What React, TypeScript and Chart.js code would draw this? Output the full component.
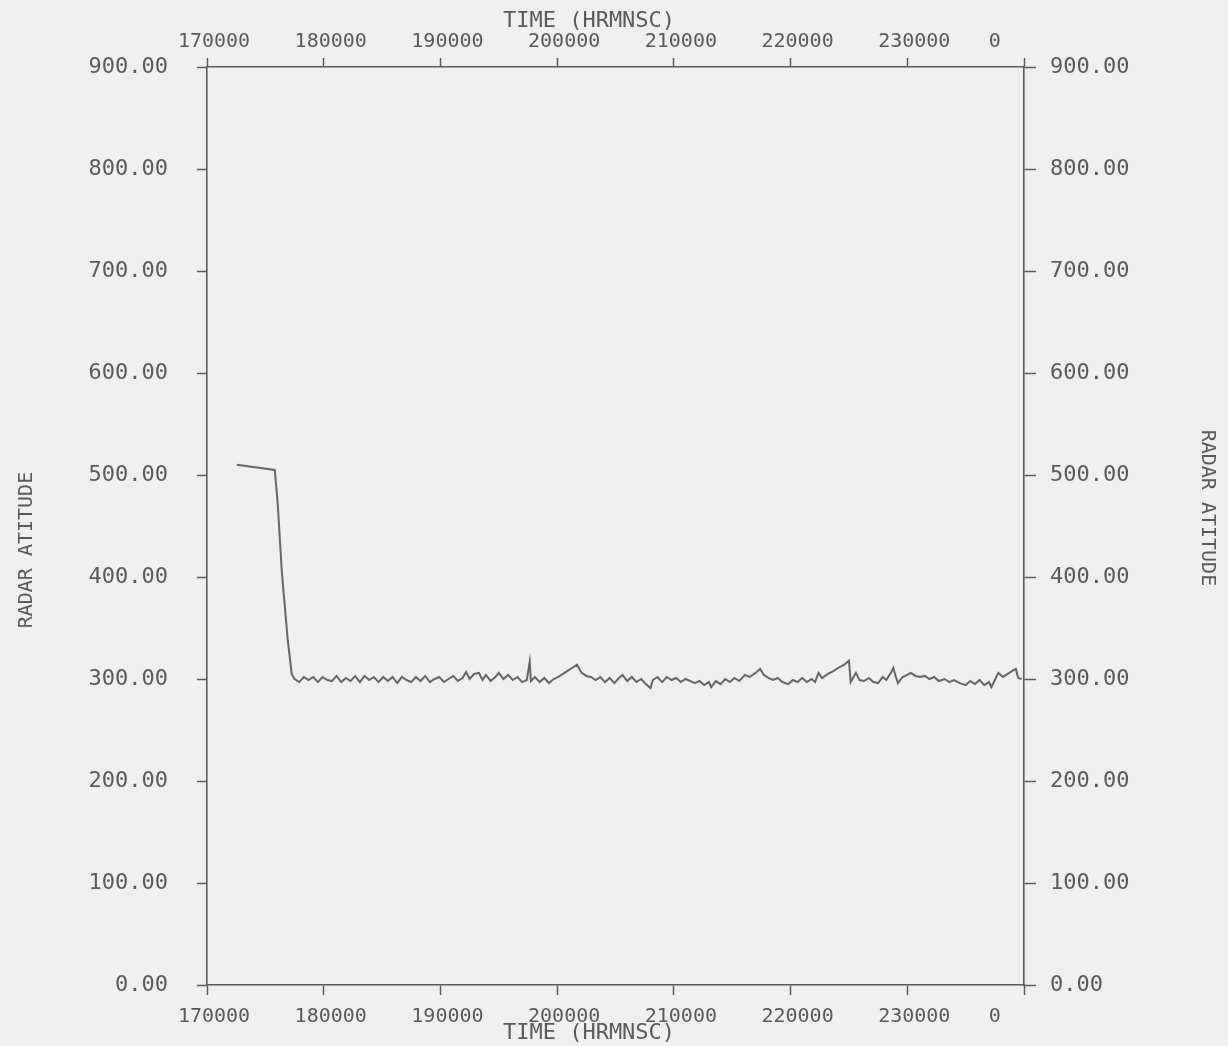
import React, { useEffect, useRef } from "react";
import { Chart, registerables } from "chart.js";

Chart.register(...registerables);

// ---- data (time in HRMNSC units as plotted, radar altitude) ----
const TIME: number[] = [
  172560, 175810, 176070, 176410, 176920, 177260, 177500,
  177900, 178300, 178700, 179100, 179500, 179900, 180300, 180700, 181100, 181500,
  181900, 182300, 182700, 183100, 183500, 183900, 184300, 184700, 185100, 185500,
  185900, 186300, 186700, 187100, 187500, 187900, 188300, 188700, 189100, 189500,
  189900, 190300, 190700, 191100, 191500, 191900, 192200, 192500, 192900, 193300,
  193600, 193900, 194300, 194700, 195000, 195400, 195800, 196200, 196600, 197000,
  197400, 197650, 197750, 198100, 198500, 198900, 199300, 199700, 200100, 200500,
  200900, 201300, 201700, 202100, 202500, 202900, 203300, 203700, 204100, 204500,
  204900, 205300, 205600, 206000, 206400, 206800, 207200, 207600, 208000, 208200,
  208600, 209000, 209400, 209800, 210200, 210600, 211000, 211400, 211800, 212200,
  212600, 213000, 213200, 213600, 214000, 214400, 214800, 215200, 215600, 216100,
  216500, 217000, 217400, 217700, 218100, 218500, 218900, 219300, 219800, 220200,
  220600, 221000, 221400, 221800, 222100, 222400, 222700, 223200, 223700, 224100,
  224600, 225000, 225150, 225600, 225900, 226300, 226700, 227100, 227500, 227900,
  228200, 228600, 228800, 229000, 229200, 229600, 230000, 230300, 230700, 231100,
  231500, 231900, 232300, 232700, 233200, 233600, 234000, 234500, 235000, 235400,
  235800, 236200, 236600, 237000, 237200, 237500, 237800, 238200, 238600, 239000,
  239300, 239500, 239800,
];

const ALT: number[] = [
  510, 505, 470, 405, 338, 305, 300,
  297, 302, 299, 302, 297, 302, 299, 298, 303, 297,
  301, 298, 303, 297, 303, 299, 302, 297, 302, 298,
  302, 296, 302, 299, 297, 302, 298, 303, 297, 300,
  302, 297, 300, 303, 298, 301, 307, 300, 305, 306,
  299, 304, 298, 302, 306, 300, 304, 299, 302, 297,
  299, 317, 298, 302, 297, 301, 296, 300, 302, 305,
  308, 311, 314, 306, 303, 302, 299, 302, 297, 301,
  296, 301, 304, 298, 302, 297, 300, 295, 291, 299,
  302, 297, 302, 299, 301, 297, 300, 298, 296, 298,
  294, 297, 292, 298, 295, 300, 297, 301, 298, 304,
  302, 306, 310, 304, 301, 299, 301, 297, 295, 299,
  297, 301, 297, 300, 297, 306, 301, 305, 308, 311,
  314, 318, 297, 306, 299, 298, 301, 297, 296, 302,
  299, 306, 311, 303, 296, 302, 304, 306, 303, 302,
  303, 300, 302, 298, 300, 297, 299, 296, 294, 298,
  295, 299, 294, 297, 292, 299, 306, 302, 305, 308,
  310, 301, 300,
];

// ---- axes ----
const X_TICK_VALUES: number[] = [170000, 180000, 190000, 200000, 210000, 220000, 230000, 240000];
// the last label sits left of its tick in the original print
const X_TICK_LABELS: string[] = ["170000", "180000", "190000", "200000", "210000", "220000", "230000", "0      "];
const Y_TICK_VALUES: number[] = [0, 100, 200, 300, 400, 500, 600, 700, 800, 900];
const Y_TICK_LABELS: string[] = ["0.00", "100.00", "200.00", "300.00", "400.00", "500.00", "600.00", "700.00", "800.00", "900.00"];
const X_TITLE = "TIME (HRMNSC)    ";
const Y_TITLE_LEFT = "RADAR ATITUDE    ";
const Y_TITLE_RIGHT = "RADAR ATITUDE   ";

const INK = "#5a5a5a";
const PAPER = "#efefef";
const FONT = "'DejaVu Sans Mono', 'Liberation Mono', monospace";

const xLabel = (v: number | string) => {
  const i = X_TICK_VALUES.indexOf(Number(v));
  return i >= 0 ? X_TICK_LABELS[i] : "";
};
const yLabel = (v: number | string) => {
  const i = Y_TICK_VALUES.indexOf(Number(v));
  return i >= 0 ? Y_TICK_LABELS[i] : "";
};

export default function App() {
  const ref = useRef<HTMLCanvasElement | null>(null);

  useEffect(() => {
    if (!ref.current) return;
    const gridCfg = (len: number) => ({
      display: true,
      drawOnChartArea: false,
      drawTicks: true,
      tickLength: len,
      tickWidth: 1.5,
      color: INK,
    });
    const border = { display: true, color: INK, width: 1.6 };
    const xTicks = (pad: number) => ({
      stepSize: 10000,
      autoSkip: false,
      maxRotation: 0,
      minRotation: 0,
      padding: pad,
      labelOffset: 7,
      color: INK,
      font: { family: FONT, size: 20 },
      callback: (v: any) => xLabel(v),
    });
    const yTicks = (pad: number) => ({
      stepSize: 100,
      autoSkip: false,
      padding: pad,
      color: INK,
      font: { family: FONT, size: 22 },
      callback: (v: any) => yLabel(v),
    });

    const chart = new Chart(ref.current, {
      type: "line",
      data: {
        datasets: [
          {
            label: "RADAR ATITUDE",
            data: TIME.map((t, i) => ({ x: t, y: ALT[i] })),
            borderColor: "#666666",
            borderWidth: 2,
            pointRadius: 0,
            tension: 0,
            xAxisID: "x",
            yAxisID: "y",
          },
        ],
      },
      options: {
        animation: false,
        responsive: false,
        maintainAspectRatio: false,
        layout: { padding: 0 },
        plugins: { legend: { display: false }, tooltip: { enabled: false }, title: { display: false } },
        scales: {
          x: {
            type: "linear",
            position: "bottom",
            min: 170000,
            max: 240000,
            grid: gridCfg(10),
            border,
            ticks: xTicks(10),
            title: { display: true, text: X_TITLE, color: INK, font: { family: FONT, size: 22 }, padding: { top: 0, bottom: 0 } },
            afterFit: (s: any) => { s.height = 61; },
          },
          x2: {
            type: "linear",
            position: "top",
            min: 170000,
            max: 240000,
            grid: gridCfg(9),
            border,
            ticks: xTicks(4),
            title: { display: true, text: X_TITLE, color: INK, font: { family: FONT, size: 22 }, padding: { top: 8, bottom: 0 } },
            afterFit: (s: any) => { s.height = 67; },
          },
          y: {
            type: "linear",
            position: "left",
            min: 0,
            max: 900,
            grid: gridCfg(10),
            border,
            ticks: yTicks(29),
            title: { display: true, text: Y_TITLE_LEFT, color: INK, font: { family: FONT, size: 20 }, padding: { top: 15, bottom: 0 } },
            afterFit: (s: any) => { s.width = 207; },
          },
          y2: {
            type: "linear",
            position: "right",
            min: 0,
            max: 900,
            grid: gridCfg(12),
            border,
            ticks: yTicks(14),
            title: { display: true, text: Y_TITLE_RIGHT, color: INK, font: { family: FONT, size: 20 }, padding: { top: 9, bottom: 0 } },
            afterFit: (s: any) => { s.width = 204; },
          },
        },
      },
    } as any);
    return () => chart.destroy();
  }, []);

  return (
    <div style={{ position: "fixed", left: 0, top: 0, width: 1228, height: 1046, background: PAPER }}>
      <canvas ref={ref} width={1228} height={1046} style={{ display: "block", width: 1228, height: 1046 }} />
    </div>
  );
}
